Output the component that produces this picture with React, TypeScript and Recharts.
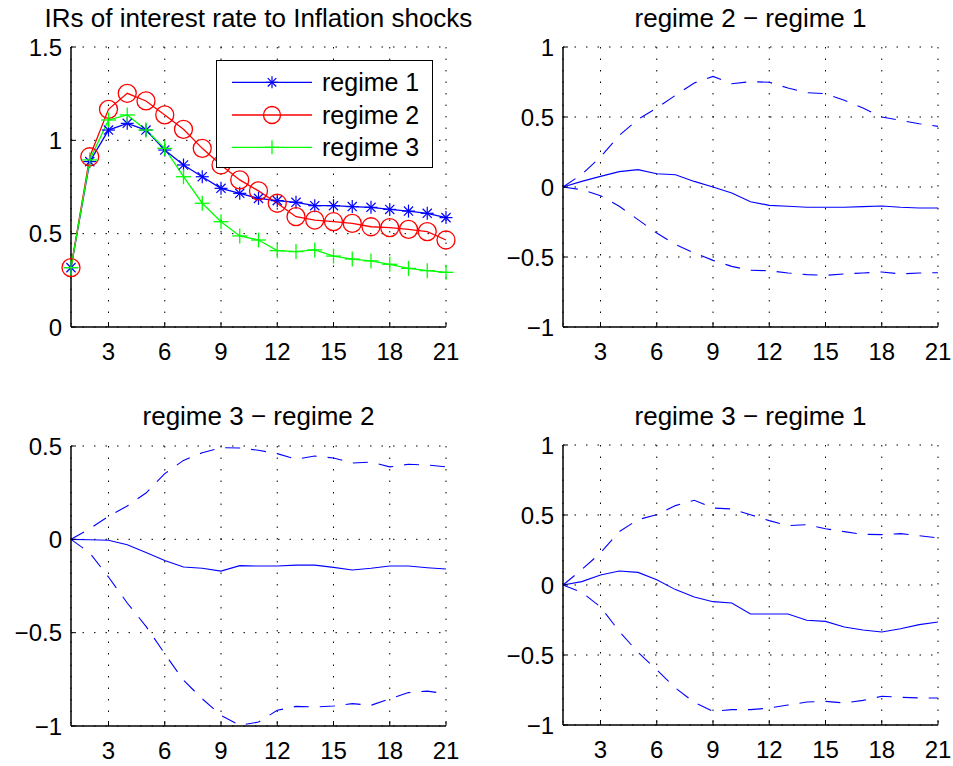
import React from 'react';
import { LineChart, Line, XAxis, YAxis, CartesianGrid } from 'recharts';

// ---------- data ----------
const horizons = [1, 2, 3, 4, 5, 6, 7, 8, 9, 10, 11, 12, 13, 14, 15, 16, 17, 18, 19, 20, 21];

const regime1 = [0.318, 0.886, 1.055, 1.091, 1.055, 0.948, 0.868, 0.805, 0.743, 0.716, 0.689, 0.677, 0.668, 0.65, 0.65, 0.645, 0.641, 0.63, 0.621, 0.609, 0.586];
const regime2 = [0.318, 0.912, 1.166, 1.252, 1.211, 1.136, 1.059, 0.957, 0.868, 0.788, 0.729, 0.663, 0.591, 0.573, 0.564, 0.555, 0.537, 0.532, 0.523, 0.511, 0.466];
const regime3 = [0.318, 0.895, 1.109, 1.136, 1.055, 0.957, 0.805, 0.663, 0.564, 0.488, 0.466, 0.409, 0.404, 0.413, 0.38, 0.364, 0.354, 0.336, 0.314, 0.302, 0.293];

// regime 2 - regime 1
const d21Mid = [0, 0.04, 0.076, 0.11, 0.124, 0.095, 0.088, 0.04, 0.0, -0.043, -0.105, -0.131, -0.138, -0.145, -0.145, -0.145, -0.14, -0.136, -0.145, -0.15, -0.15];
const d21Upper = [0, 0.09, 0.214, 0.369, 0.483, 0.564, 0.655, 0.743, 0.79, 0.738, 0.752, 0.748, 0.707, 0.674, 0.667, 0.619, 0.564, 0.5, 0.476, 0.452, 0.433];
const d21Lower = [0, -0.019, -0.062, -0.138, -0.233, -0.329, -0.41, -0.471, -0.524, -0.567, -0.595, -0.598, -0.614, -0.626, -0.631, -0.621, -0.614, -0.607, -0.621, -0.614, -0.612];

// regime 3 - regime 2
const d32Mid = [0, -0.002, -0.005, -0.029, -0.07, -0.113, -0.148, -0.155, -0.17, -0.141, -0.143, -0.143, -0.138, -0.138, -0.15, -0.164, -0.155, -0.143, -0.143, -0.152, -0.159];
const d32Upper = [0, 0.057, 0.123, 0.179, 0.248, 0.352, 0.423, 0.464, 0.491, 0.489, 0.477, 0.459, 0.429, 0.446, 0.436, 0.409, 0.414, 0.388, 0.402, 0.398, 0.388];
const d32Lower = [0, -0.073, -0.202, -0.341, -0.466, -0.613, -0.755, -0.854, -0.943, -0.996, -0.979, -0.916, -0.895, -0.898, -0.893, -0.88, -0.889, -0.854, -0.821, -0.813, -0.827];

// regime 3 - regime 1
const d31Mid = [0, 0.024, 0.071, 0.1, 0.09, 0.038, -0.033, -0.086, -0.119, -0.129, -0.207, -0.207, -0.207, -0.252, -0.26, -0.3, -0.321, -0.336, -0.312, -0.283, -0.264];
const d31Upper = [0, 0.11, 0.229, 0.381, 0.467, 0.502, 0.567, 0.605, 0.55, 0.543, 0.502, 0.46, 0.424, 0.431, 0.402, 0.381, 0.362, 0.36, 0.367, 0.352, 0.336];
const d31Lower = [0, -0.052, -0.157, -0.331, -0.481, -0.605, -0.736, -0.838, -0.902, -0.89, -0.89, -0.879, -0.857, -0.836, -0.831, -0.843, -0.824, -0.795, -0.802, -0.807, -0.807];

const xTicks = [3, 6, 9, 12, 15, 18, 21];
const yTicksLevels = [0, 0.5, 1, 1.5];
const yTicksSym = [-1, -0.5, 0, 0.5, 1];
const yTicksBL = [-1, -0.5, 0, 0.5];

const legendLabels = ['regime 1', 'regime 2', 'regime 3'];
const titles = [
  'IRs of interest rate to Inflation shocks',
  'regime 2 \u2212 regime 1',
  'regime 3 \u2212 regime 2',
  'regime 3 \u2212 regime 1',
];

// ---------- build tables ----------
const levelData = horizons.map((h, i) => ({ h, r1: regime1[i], r2: regime2[i], r3: regime3[i] }));
const mk = (mid: number[], up: number[], lo: number[]) =>
  horizons.map((h, i) => ({ h, mid: mid[i], up: up[i], lo: lo[i] }));
const d21Data = mk(d21Mid, d21Upper, d21Lower);
const d32Data = mk(d32Mid, d32Upper, d32Lower);
const d31Data = mk(d31Mid, d31Upper, d31Lower);

const FONT = '"Liberation Sans", Arial, Helvetica, sans-serif';
const BLUE = '#0000ff';
const RED = '#ff0000';
const GREEN = '#00ff00';

// ---------- markers ----------
function StarShape({ cx, cy, color, r = 6.5 }: any) {
  const d = r * 0.707;
  return (
    <g stroke={color} strokeWidth={1.2} fill="none">
      <line x1={cx - r} y1={cy} x2={cx + r} y2={cy} />
      <line x1={cx} y1={cy - r} x2={cx} y2={cy + r} />
      <line x1={cx - d} y1={cy - d} x2={cx + d} y2={cy + d} />
      <line x1={cx - d} y1={cy + d} x2={cx + d} y2={cy - d} />
    </g>
  );
}
function CircleShape({ cx, cy, color, r = 9 }: any) {
  return <circle cx={cx} cy={cy} r={r} stroke={color} strokeWidth={1.3} fill="none" />;
}
function PlusShape({ cx, cy, color, r = 7.5 }: any) {
  return (
    <g stroke={color} strokeWidth={1.3}>
      <line x1={cx - r} y1={cy} x2={cx + r} y2={cy} />
      <line x1={cx} y1={cy - r} x2={cx} y2={cy + r} />
    </g>
  );
}

const makeDot = (Shape: any, color: string, name: string) => (p: any) => {
  if (p.cx == null || p.cy == null) return <g key={`${name}-${p.index}`} />;
  return <Shape key={`${name}-${p.index}`} cx={p.cx} cy={p.cy} color={color} />;
};

const fmt = (v: number) => (v < 0 ? '\u2212' + String(Math.abs(v)) : String(v));

// ---------- panel ----------
const CW = 476;
const CH = 383;
const PLOT_LEFT = 71;
const PLOT_TOP = 47;
const PLOT_W = 375;

type SeriesDef = { key: string; color: string; dash?: string; width: number; dot?: any };

function Panel({ left, top, data, series, domain, ticks, title, children }: any) {
  const tickStyle = { fill: '#000', fontSize: 24, fontFamily: FONT };
  return (
    <div style={{ position: 'absolute', left, top, width: CW, height: CH }}>
      <LineChart width={CW} height={CH} data={data} margin={{ top: PLOT_TOP, right: CW - PLOT_LEFT - PLOT_W, bottom: 26, left: 0 }}>
        <CartesianGrid stroke="#000" strokeWidth={1} strokeDasharray="1.5 10" />
        <XAxis
          dataKey="h"
          type="number"
          domain={[1, 21]}
          ticks={xTicks}
          interval={0}
          height={30}
          axisLine={{ stroke: '#000', strokeWidth: 1.5 }}
          tickLine={{ stroke: '#000' }}
          tickSize={-5}
          tickMargin={21}
          tick={tickStyle}
        />
        <XAxis
          xAxisId="top"
          orientation="top"
          dataKey="h"
          type="number"
          domain={[1, 21]}
          ticks={xTicks}
          interval={0}
          height={0}
          axisLine={{ stroke: '#000', strokeWidth: 1.5 }}
          tickLine={{ stroke: '#000' }}
          tickSize={-5}
          tick={false}
        />
        <YAxis
          type="number"
          domain={domain}
          ticks={ticks}
          interval={0}
          width={PLOT_LEFT}
          axisLine={{ stroke: '#000', strokeWidth: 1.5 }}
          tickLine={{ stroke: '#000' }}
          tickSize={-5}
          tickMargin={14}
          tick={tickStyle}
          tickFormatter={fmt}
        />
        <YAxis
          yAxisId="right"
          orientation="right"
          type="number"
          domain={domain}
          ticks={ticks}
          interval={0}
          width={0}
          axisLine={{ stroke: '#000', strokeWidth: 1.5 }}
          tickLine={{ stroke: '#000' }}
          tickSize={-5}
          tick={false}
        />
        {series.map((s: SeriesDef) => (
          <Line
            key={s.key}
            dataKey={s.key}
            type="linear"
            stroke={s.color}
            strokeWidth={s.width}
            strokeDasharray={s.dash}
            dot={s.dot ? s.dot : false}
            activeDot={false}
            isAnimationActive={false}
          />
        ))}
      </LineChart>
      <div
        style={{
          position: 'absolute',
          left: PLOT_LEFT + PLOT_W / 2 - 300,
          width: 600,
          top: PLOT_TOP - 20.5 - 24,
          height: 30,
          lineHeight: '30px',
          textAlign: 'center',
          whiteSpace: 'nowrap',
          fontFamily: FONT,
          fontSize: 26,
          color: '#000',
        }}
      >
        {title}
      </div>
      {children}
    </div>
  );
}

const levelSeries: SeriesDef[] = [
  { key: 'r1', color: BLUE, width: 1.3, dot: makeDot(StarShape, BLUE, 'r1') },
  { key: 'r2', color: RED, width: 1.3, dot: makeDot(CircleShape, RED, 'r2') },
  { key: 'r3', color: GREEN, width: 1.3, dot: makeDot(PlusShape, GREEN, 'r3') },
];
const bandSeries: SeriesDef[] = [
  { key: 'up', color: BLUE, width: 1.1, dash: '15 11' },
  { key: 'mid', color: BLUE, width: 1.1 },
  { key: 'lo', color: BLUE, width: 1.1, dash: '15 11' },
];

function LegendBox() {
  const shapes = [StarShape, CircleShape, PlusShape];
  const colors = [BLUE, RED, GREEN];
  const rows = [22.3, 55, 87.3];
  return (
    <div style={{ position: 'absolute', left: 216, top: 60, width: 217, height: 108, background: '#fff', border: '1.5px solid #000', boxSizing: 'border-box' }}>
      <svg width={217} height={108} style={{ position: 'absolute', left: -1.5, top: -1.5, overflow: 'visible' }}>
        {legendLabels.map((label, i) => {
          const Shape = shapes[i];
          const y = rows[i];
          return (
            <g key={label}>
              <line x1={16} y1={y} x2={96} y2={y} stroke={colors[i]} strokeWidth={1.3} />
              <Shape cx={56} cy={y} color={colors[i]} r={i === 1 ? 8.5 : i === 0 ? 6 : 7} />
              <text x={106} y={y + 9} fontFamily={FONT} fontSize={25} fill="#000">
                {label}
              </text>
            </g>
          );
        })}
      </svg>
    </div>
  );
}

export default function App() {
  return (
    <div style={{ position: 'absolute', left: 0, top: 0, width: 953, height: 766, background: '#fff', overflow: 'hidden' }}>
      <Panel left={0} top={0} data={levelData} series={levelSeries} domain={[0, 1.5]} ticks={yTicksLevels} title={titles[0]}>
        <LegendBox />
      </Panel>
      <Panel left={492} top={0} data={d21Data} series={bandSeries} domain={[-1, 1]} ticks={yTicksSym} title={titles[1]} />
      <Panel left={0} top={398.5} data={d32Data} series={bandSeries} domain={[-1, 0.5]} ticks={yTicksBL} title={titles[2]} />
      <Panel left={492} top={398.3} data={d31Data} series={bandSeries} domain={[-1, 1]} ticks={yTicksSym} title={titles[3]} />
    </div>
  );
}
